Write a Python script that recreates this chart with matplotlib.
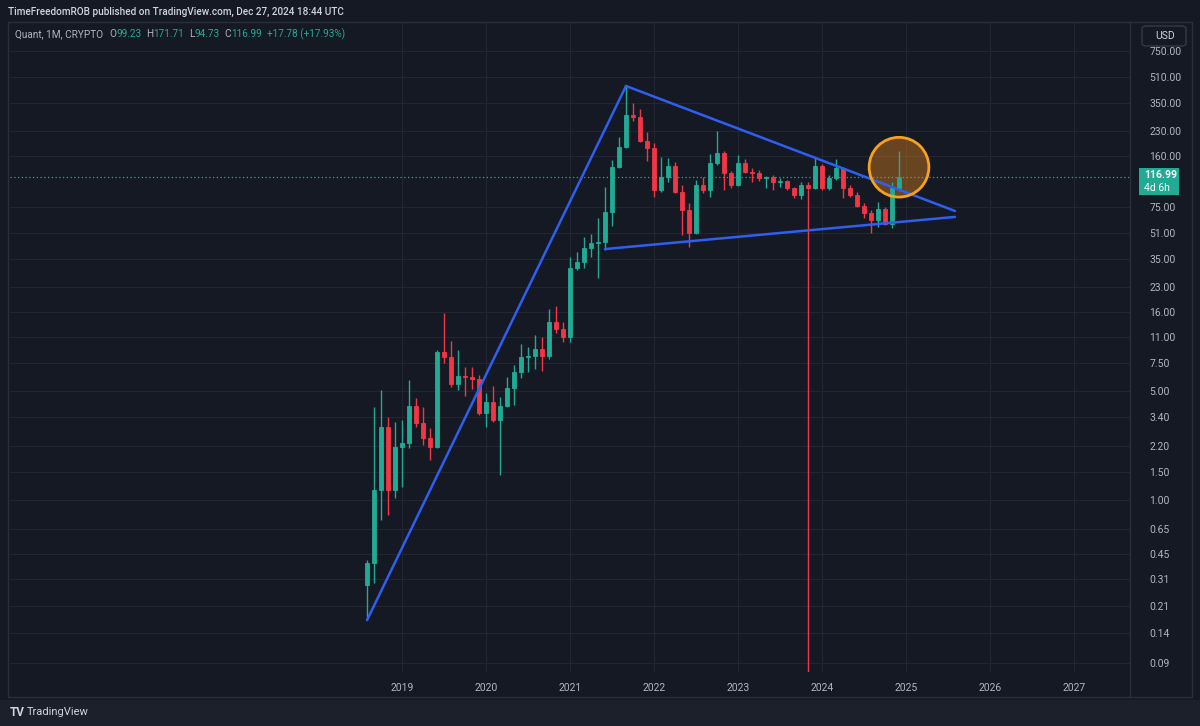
import numpy as np
import pandas as pd
import matplotlib.pyplot as plt
from matplotlib.patches import Rectangle, FancyBboxPatch

plt.rcParams['font.family'] = ['Roboto', 'DejaVu Sans']

# QNT/USD monthly candles, Aug 2018 .. Dec 2024
months = pd.period_range('2018-08', '2024-12', freq='M')
opens = [0.286, 0.395, 1.16, 2.93, 1.16,
         2.18, 2.32, 4.00, 3.11, 2.49, 2.18, 8.87, 8.23, 5.53, 6.22, 6.10, 5.95,
         3.61, 4.24, 3.25, 4.00, 5.21, 6.60, 8.23, 8.35, 9.27, 8.35, 13.8, 12.4,
         11.1, 30.6, 33.4, 41.1, 44.1, 45.0, 69.8, 135, 182, 292, 283, 199,
         179, 96.5, 117, 137, 93.7, 71.9, 51.2, 104, 96.5, 144, 167, 124,
         104, 144, 126, 124, 115, 117, 108, 110, 99, 89.7, 104, 99,
         137, 99, 115, 133, 99, 89.7, 76.2, 68.8, 62.1, 73, 58.5, 99.23]
highs = [0.413, 3.94, 5.06, 3.40, 3.16,
         3.25, 5.86, 4.50, 3.94, 2.89, 9.10, 15.7, 10.4, 9.13, 7.10, 7.10, 6.30,
         4.84, 5.37, 4.57, 6.13, 7.30, 9.97, 9.53, 11.4, 11.0, 16.7, 17.4, 13.8,
         36.0, 38.7, 48.3, 50.5, 63.9, 101, 150, 211, 447, 348, 319, 227,
         194, 157, 155, 146, 104, 79.6, 112, 117, 164, 230, 172, 127,
         162, 152, 133, 129, 119, 120, 115, 112, 101, 108, 108, 155,
         141, 120, 152, 135, 104, 93, 79.6, 72, 81, 75, 108, 171.71]
lows = [0.17, 0.294, 0.745, 0.80, 1.03,
        1.21, 2.15, 2.93, 2.25, 1.80, 2.15, 7.54, 5.30, 5.06, 4.63, 5.13, 3.50,
        2.93, 3.16, 1.45, 3.94, 4.06, 6.04, 6.60, 6.90, 6.70, 8.00, 11.7, 10.3,
        10.3, 29.7, 30.6, 36.0, 26.4, 39.9, 56.8, 133, 180, 267, 195, 148,
        87, 93, 109, 92, 49.7, 41.7, 50.5, 92, 87, 140, 96.5, 99,
        102, 124, 108, 110, 99, 96.5, 101, 96.5, 86, 84, 97, 98,
        97, 97, 112, 86, 87, 75, 63.9, 51.2, 56, 57.6, 55, 94.73]
closes = [0.395, 1.16, 2.93, 1.16, 2.18,
          2.32, 4.00, 3.11, 2.49, 2.18, 8.87, 8.23, 5.53, 6.22, 6.10, 5.95, 3.61,
          4.24, 3.25, 4.00, 5.21, 6.60, 8.23, 8.35, 9.27, 8.35, 13.8, 12.4, 11.1,
          30.6, 33.4, 41.1, 44.1, 45.0, 69.8, 135, 182, 292, 283, 199, 179,
          96.5, 117, 137, 93.7, 71.9, 51.2, 104, 96.5, 144, 167, 124, 104,
          144, 126, 124, 115, 117, 108, 110, 99, 89.7, 104, 99, 137,
          99, 115, 133, 99, 89.7, 76.2, 68.8, 62.1, 73, 58.5, 99.23, 116.99]

price_ticks = [750, 510, 350, 230, 160, 75, 51, 35, 23, 16, 11, 7.5, 5.0, 3.4,
               2.2, 1.5, 1.0, 0.65, 0.45, 0.31, 0.21, 0.14, 0.09]
years = [2019, 2020, 2021, 2022, 2023, 2024, 2025, 2026, 2027]

# drawings on the chart
rise_line = (['2018-08', '2021-09'], [0.17, 447])
top_line = (['2021-09', '2025-08'], [447, 70.8])
bottom_line = (['2021-06', '2025-08'], [40.4, 64.9])
circle_at = ('2024-12', 135)
red_line_at = ('2023-11', 97)
last_price = 116.99


def mx(p):
    p = pd.Period(p, freq='M')
    return (p.year - 2019) * 12 + p.month - 1


bg = '#151924'
grid = '#222632'
up, down = '#22ab94', '#f23645'
txt = '#b2b5be'

fig = plt.figure(figsize=(12, 7.26), dpi=100)
fig.patch.set_facecolor(bg)
ax = fig.add_axes([10 / 1200, 1 - 672 / 726, 1120 / 1200, 650 / 726])
ax.set_facecolor(bg)
ax.set_yscale('log')

x = np.array([mx(m) for m in months])
o, h, l, c = map(np.array, (opens, highs, lows, closes))
col = np.where(c >= o, up, down)
ax.vlines(x, l, h, colors=col, lw=1, zorder=3)
ax.bar(x, np.abs(c - o), bottom=np.minimum(o, c), width=0.7, color=col,
       edgecolor=col, lw=0.6, zorder=4)

for xs, ps in (rise_line, top_line, bottom_line):
    ax.plot([mx(d) for d in xs], ps, color='#2f5ff0', lw=1.8, zorder=5,
            solid_capstyle='round')

ax.vlines(mx(red_line_at[0]), 0.01, red_line_at[1], colors=down, lw=1, zorder=2)
ax.axhline(last_price, color=up, lw=0.9, ls=(0, (1, 2)), zorder=1)
# highlight circle: faint fill under the candles, ring on top
ax.scatter([mx(circle_at[0])], [circle_at[1]], s=1850, facecolor=(0.95, 0.55, 0.1, 0.38),
           edgecolor='none', zorder=2.5)
ax.scatter([mx(circle_at[0])], [circle_at[1]], s=1850, facecolor='none',
           edgecolor='#f7a21b', lw=2, zorder=6)

ax.set_xlim(-56, 104)
ax.set_ylim(0.0792, 1148)
ax.set_xticks([(y - 2019) * 12 for y in years])
ax.set_xticklabels([str(y) for y in years])
ax.yaxis.tick_right()
ax.set_yticks(price_ticks)
ax.set_yticklabels(['%.2f' % p for p in price_ticks])
ax.yaxis.set_minor_locator(plt.NullLocator())
ax.tick_params(axis='y', length=0, pad=14, labelsize=7.5, labelcolor=txt)
ax.tick_params(axis='x', length=0, pad=8, labelsize=7.5, labelcolor=txt)
ax.grid(True, color=grid, lw=0.8)
ax.set_axisbelow(True)
for s in ax.spines.values():
    s.set_visible(False)

# frame and right price scale separator
fig.patches.append(Rectangle((8 / 1200, 1 - 697 / 726), 1184 / 1200, 675 / 726,
                             transform=fig.transFigure, fill=False,
                             edgecolor='#2a2e39', lw=1))
fig.add_artist(plt.Line2D([1130 / 1200] * 2, [1 - 697 / 726, 1 - 22 / 726],
                          transform=fig.transFigure, color='#2a2e39', lw=1))
fig.patches.append(Rectangle((0, 0), 1, 1 - 700 / 726, transform=fig.transFigure,
                             facecolor='#1c202b', edgecolor='none'))

# USD box
fig.patches.append(FancyBboxPatch((1142 / 1200, 1 - 46 / 726), 44 / 1200, 20 / 726,
                                  boxstyle='round,pad=0,rounding_size=0.004',
                                  transform=fig.transFigure, facecolor=bg,
                                  edgecolor='#363a45', lw=1))
fig.text(1155 / 1200, 1 - 36 / 726, 'USD', color='#d1d4dc', fontsize=7.5,
         va='center', ha='left')

# last price label
fig.patches.append(Rectangle((1139 / 1200, 1 - 195 / 726), 40 / 1200, 27 / 726,
                             transform=fig.transFigure, facecolor=up,
                             edgecolor='none'))
fig.text(1144 / 1200, 1 - 175 / 726, '%.2f' % last_price, color='white',
         fontsize=7.5, va='center', fontweight='bold')
fig.text(1144 / 1200, 1 - 188 / 726, '4d 6h', color='white', fontsize=7.5,
         va='center')

# header
fig.text(8 / 1200, 1 - 12 / 726,
         'TimeFreedomROB published on TradingView.com, Dec 27, 2024 18:44 UTC',
         color='#d1d4dc', fontsize=7.2, va='center', fontweight='medium')
legend = [('Quant, 1M, CRYPTO', txt, 6), ('O', txt, 0), ('99.23', up, 5),
          ('H', txt, 0), ('171.71', up, 5), ('L', txt, 0), ('94.73', up, 5),
          ('C', txt, 0), ('116.99', up, 5), ('+17.78 (+17.93%)', up, 0)]
renderer = fig.canvas.get_renderer()
px = 15
for s, cl, gap in legend:
    t = fig.text(px / 1200, 1 - 34 / 726, s, color=cl, fontsize=7.2, va='center')
    px += t.get_window_extent(renderer).width + gap

# footer logo
fig.text(10 / 1200, 1 - 712 / 726, 'TV', color='#d1d4dc', fontsize=8.5,
         fontweight='bold', va='center')
fig.text(27 / 1200, 1 - 712 / 726, 'TradingView', color='#d1d4dc', fontsize=8,
         va='center')

fig.savefig('out.png', dpi=100, facecolor=fig.get_facecolor())
